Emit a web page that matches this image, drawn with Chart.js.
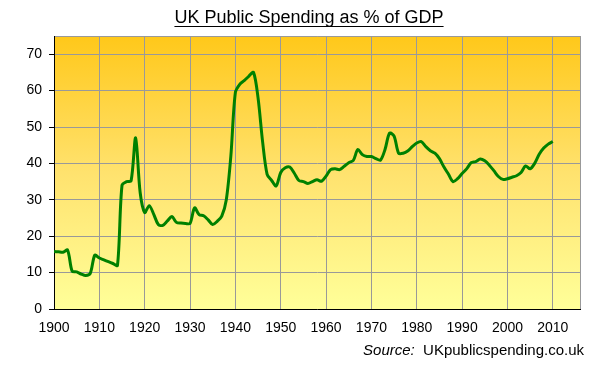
<!DOCTYPE html>
<html>
<head>
<meta charset="utf-8">
<script src="https://cdn.jsdelivr.net/npm/chart.js@4.4.0/dist/chart.umd.min.js"></script>
<style>
  body { margin: 0; background: #fff; }
  #wrap { width: 607px; height: 367px; position: relative; }
</style>
</head>
<body>
<div id="wrap"><canvas id="myChart" width="607" height="367"></canvas></div>
<script>
var years = [
  1900,1901,1902,1903,1904,1905,1906,1907,1908,1909,
  1910,1911,1912,1913,1914,1915,1916,1917,1918,1919,
  1920,1921,1922,1923,1924,1925,1926,1927,1928,1929,
  1930,1931,1932,1933,1934,1935,1936,1937,1938,1939,
  1940,1941,1942,1943,1944,1945,1946,1947,1948,1949,
  1950,1951,1952,1953,1954,1955,1956,1957,1958,1959,
  1960,1961,1962,1963,1964,1965,1966,1967,1968,1969,
  1970,1971,1972,1973,1974,1975,1976,1977,1978,1979,
  1980,1981,1982,1983,1984,1985,1986,1987,1988,1989,
  1990,1991,1992,1993,1994,1995,1996,1997,1998,1999,
  2000,2001,2002,2003,2004,2005,2006,2007,2008,2009,
  2010
];
// % of GDP
var spending = [
  15.8,15.7,15.6,16.2,10.4,10.2,9.6,9.2,9.8,14.8,
  14.0,13.5,13.0,12.5,12.0,34.0,35.0,35.2,47.0,32.0,
  26.5,28.4,26.0,23.2,23.0,24.2,25.4,23.8,23.6,23.5,
  23.5,27.8,25.9,25.6,24.5,23.2,24.1,25.5,30.0,42.0,
  59.5,61.8,62.8,64.0,65.0,58.0,46.0,37.0,35.3,33.8,
  37.5,38.8,39.0,37.3,35.3,35.0,34.5,35.0,35.5,35.1,
  36.5,38.3,38.5,38.3,39.2,40.2,40.8,43.8,42.4,41.9,
  41.9,41.3,40.9,43.8,48.3,47.5,42.8,42.8,43.4,44.6,
  45.6,46.0,44.6,43.5,42.8,41.3,39.0,37.0,35.0,35.8,
  37.2,38.5,40.2,40.5,41.2,40.7,39.5,38.0,36.4,35.6,
  35.8,36.2,36.6,37.5,39.3,38.5,40.0,42.5,44.2,45.3,
  46.0
];
var yTicks = [0,10,20,30,40,50,60,70];
var xLabelYears = [1900,1910,1920,1930,1940,1950,1960,1970,1980,1990,2000,2010];

var title = "UK Public Spending as % of GDP";
var sourceLabel = "Source:";
var sourceText = "UKpublicspending.co.uk";

var points = [];
for (var i = 0; i < years.length; i++) {
  points.push({x: years[i], y: spending[i]});
}

// gold -> pale yellow fill behind the plot, plus title and source text
var decorPlugin = {
  id: 'decor',
  beforeDraw: function(chart) {
    var a = chart.chartArea;
    var c = chart.ctx;
    var g = c.createLinearGradient(0, a.top, 0, a.bottom);
    g.addColorStop(0, '#ffc81a');
    g.addColorStop(0.5, '#ffe26e');
    g.addColorStop(1, '#ffff99');
    c.save();
    c.fillStyle = g;
    c.fillRect(a.left, a.top, a.right - a.left, a.bottom - a.top);
    c.restore();
  },
  afterDraw: function(chart) {
    var c = chart.ctx;
    c.save();
    c.fillStyle = '#000';
    c.font = '18px "Liberation Sans", Arial, sans-serif';
    c.textAlign = 'center';
    c.textBaseline = 'alphabetic';
    var cx = 309;
    c.fillText(title, cx, 23);
    var w = c.measureText(title).width;
    c.fillRect(cx - w / 2, 26, w, 1);

    c.font = '15px "Liberation Sans", Arial, sans-serif';
    c.textAlign = 'right';
    var right = 584;
    c.fillText(sourceText, right, 355);
    var w2 = c.measureText("  " + sourceText).width;
    c.font = 'italic 15px "Liberation Sans", Arial, sans-serif';
    c.fillText(sourceLabel, right - w2, 355);
    c.restore();
  }
};

var ctx = document.getElementById("myChart");
var myChart = new Chart(ctx, {
  type: 'line',
  data: {
    datasets: [{
      data: points,
      borderColor: '#008000',
      borderWidth: 3,
      pointRadius: 0,
      tension: 0.3,
      fill: false
    }]
  },
  options: {
    responsive: false,
    animation: false,
    layout: { padding: { top: 36, right: 27, left: 0, bottom: 0 } },
    plugins: { legend: { display: false }, tooltip: { enabled: false } },
    scales: {
      x: {
        type: 'linear',
        min: 1900,
        max: 2016,
        afterFit: function(s) { s.height = 58; },
        afterBuildTicks: function(s) {
          var t = xLabelYears.map(function(v) { return {value: v}; });
          t.push({value: 2016});
          s.ticks = t;
        },
        ticks: {
          color: '#000',
          font: { family: '"Liberation Sans", Arial, sans-serif', size: 14 },
          padding: 11,
          maxRotation: 0,
          autoSkip: false,
          callback: function(v) { return xLabelYears.indexOf(v) >= 0 ? String(v) : ''; }
        },
        grid: { color: '#999999', lineWidth: 1, drawTicks: false },
        border: { color: '#000', width: 1 }
      },
      y: {
        min: 0,
        max: 75,
        afterFit: function(s) { s.width = 54; },
        afterBuildTicks: function(s) {
          var t = yTicks.map(function(v) { return {value: v}; });
          t.push({value: 75});
          s.ticks = t;
        },
        ticks: {
          color: '#000',
          font: { family: '"Liberation Sans", Arial, sans-serif', size: 14 },
          padding: 7,
          callback: function(v) { return yTicks.indexOf(v) >= 0 ? String(v) : ''; }
        },
        grid: {
          color: '#999999',
          lineWidth: 1,
          tickLength: 5,
          tickColor: function(c) { return c.tick && c.tick.value === 75 ? 'rgba(0,0,0,0)' : '#000'; }
        },
        border: { color: '#000', width: 1 }
      }
    }
  },
  plugins: [decorPlugin]
});
</script>
</body>
</html>
